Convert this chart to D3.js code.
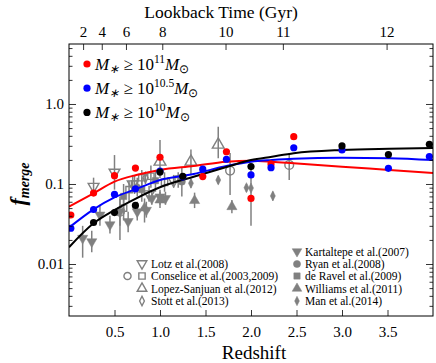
<!DOCTYPE html>
<html>
<head>
<meta charset="utf-8">
<script src="https://cdn.jsdelivr.net/npm/d3@7"></script>
<style>
body { margin: 0; background: #fff; }
svg text { font-family: 'Liberation Serif', serif; }
</style>
</head>
<body>
<svg class="plot" width="436" height="363"></svg>
<script>
// --- data ---
// this work: [z, fmerge]
var redPts = [[0.02,0.041],[0.27,0.077],[0.5,0.127],[0.73,0.158],[1.0,0.216],[1.47,0.124],[1.73,0.253],[2.0,0.066],[2.22,0.178],[2.47,0.39]];
var bluePts = [[0.02,0.028],[0.27,0.048],[0.5,0.074],[0.73,0.087],[1.0,0.145],[1.25,0.123],[1.47,0.153],[1.73,0.204],[2.0,0.13],[2.22,0.16],[2.47,0.284],[3.0,0.266],[3.51,0.157],[3.96,0.22]];
var blackPts = [[0.27,0.033],[0.5,0.044],[0.73,0.054],[1.0,0.141],[1.25,0.125],[2.0,0.165],[3.0,0.299],[3.51,0.233],[3.96,0.314]];
// fitted curves, sampled from the figure
var redFit = [[0.0,0.052],[0.27,0.0766],[0.5,0.107],[0.74,0.1296],[1.0,0.150],[1.37,0.168],[1.73,0.190],[2.0,0.1955],[2.23,0.190],[2.47,0.1815],[3.0,0.1645],[3.52,0.150],[4.0,0.1375]];
var blueFit = [[0.0,0.0285],[0.27,0.0483],[0.5,0.0682],[0.74,0.0866],[1.0,0.112],[1.37,0.1334],[1.73,0.168],[2.0,0.190],[2.23,0.1995],[2.47,0.207],[3.0,0.213],[3.52,0.2097],[4.0,0.199]];
var blackFit = [[0.0,0.0162],[0.27,0.0323],[0.5,0.0473],[0.74,0.0663],[1.0,0.091],[1.37,0.1234],[1.73,0.163],[2.0,0.1995],[2.23,0.2195],[2.47,0.242],[3.0,0.266],[3.52,0.276],[4.0,0.282]];

// literature: [z, f, lo, hi]
var lotz = [[0.27,0.093,0.075,0.12],[0.5,0.14,0.085,0.23],[0.7,0.1,0.078,0.13],[0.88,0.075,0.06,0.095],[1.15,0.11,0.09,0.13]];
var conseliceCirc = [[0.56,0.045,0.03,0.065],[1.77,0.147,0.073,0.244],[2.42,0.173,0.112,0.242]];
var conseliceSq = [[0.6,0.05,0.035,0.07],[0.66,0.085,0.06,0.11],[0.72,0.1,0.075,0.13],[0.8,0.12,0.09,0.15],[0.9,0.125,0.09,0.17],[1.05,0.105,0.08,0.14],[1.2,0.115,0.09,0.14]];
var lopez = [[1.0,0.19,0.119,0.355],[1.34,0.19,0.13,0.27],[1.64,0.31,0.21,0.52]];
var stott = [[0.84,0.12,0.1,0.14]];
var kartaltepe = [[0.15,0.021,0.012,0.03],[0.25,0.019,0.014,0.026],[0.34,0.041,0.03,0.055],[0.45,0.031,0.024,0.04],[0.56,0.045,0.02,0.07],[0.65,0.034,0.025,0.045],[0.75,0.045,0.035,0.06],[0.85,0.047,0.038,0.06],[0.91,0.066,0.055,0.08],[1.0,0.069,0.055,0.085],[1.06,0.066,0.055,0.08]];
var ryan = [[0.75,0.09,0.07,0.12],[1.24,0.107,0.07,0.16]];
var deravel = [[0.6,0.07,0.05,0.1],[0.8,0.085,0.06,0.12],[0.95,0.11,0.08,0.15]];
var williams = [[0.83,0.05,0.033,0.066],[1.0,0.063,0.05,0.08],[1.38,0.062,0.05,0.078],[1.79,0.052,0.043,0.063]];
var man = [[1.34,0.102,0.09,0.115],[1.64,0.112,0.1,0.125],[1.95,0.09,0.08,0.1],[2.0,0.089,0.03,0.16],[2.24,0.071,0.062,0.08]];

var zTicks = [0.5,1.0,1.5,2.0,2.5,3.0,3.5];
var yTicks = [0.01,0.1,1];
var yTickLabels = ["0.01","0.1","1.0"];
var lookbackLabels = ["2","4","6","8","10","11","12"];
var lookbackZ = [0.155,0.36,0.626,1.025,1.72,2.35,3.49];

var svg = d3.select(".plot");
var mL = 69, mR = 433, mT = 44, mB = 316;

var x = d3.scaleLinear().domain([0,4]).range([mL,mR]);
var y = d3.scaleLog().domain([0.00224,5.62]).range([mB,mT]);

var gray = "#808080";

// minor log ticks
var minor = [];
[0.001,0.01,0.1,1].forEach(function(d){ for (var k=2;k<10;k++){ var v=d*k; if (v>0.00224 && v<5.62) minor.push(v);} });

function sym(type, open, size) {
  return function(sel) {
    sel.attr("d", d3.symbol().type(type).size(size))
      .attr("fill", open ? "none" : gray)
      .attr("stroke", gray)
      .attr("stroke-width", open ? 1.4 : 0.5);
  };
}
var thinDiamond = { draw: function(ctx, s){ var r=Math.sqrt(s)/1.6; ctx.moveTo(0,-r*1.2); ctx.lineTo(r*0.6,0); ctx.lineTo(0,r*1.2); ctx.lineTo(-r*0.6,0); ctx.closePath(); } };

var sets = [
  {data: kartaltepe, type: d3.symbolTriangle, open:false, rot:180, size:45},
  {data: deravel, type: d3.symbolSquare, open:false, rot:0, size:40},
  {data: conseliceSq, type: d3.symbolSquare, open:true, rot:0, size:40},
  {data: lotz, type: d3.symbolTriangle, open:true, rot:180, size:50},
  {data: ryan, type: d3.symbolCircle, open:false, rot:0, size:40},
  {data: williams, type: d3.symbolTriangle, open:false, rot:0, size:45},
  {data: man, type: thinDiamond, open:false, rot:0, size:45},
  {data: stott, type: thinDiamond, open:true, rot:0, size:45},
  {data: lopez, type: d3.symbolTriangle, open:true, rot:0, size:60},
  {data: conseliceCirc, type: d3.symbolCircle, open:true, rot:0, size:60}
];

var plot = svg.append("g");
plot.append("clipPath").attr("id","clip").append("rect")
  .attr("x",mL).attr("y",mT).attr("width",mR-mL).attr("height",mB-mT);
var inner = plot.append("g").attr("clip-path","url(#clip)");

sets.forEach(function(s){
  inner.append("g").selectAll("line").data(s.data).enter().append("line")
    .attr("x1", function(d){ return x(d[0]); }).attr("x2", function(d){ return x(d[0]); })
    .attr("y1", function(d){ return y(d[2]); }).attr("y2", function(d){ return y(d[3]); })
    .attr("stroke", gray).attr("stroke-width", 1.5);
});
sets.forEach(function(s){
  inner.append("g").selectAll("path").data(s.data).enter().append("path")
    .attr("transform", function(d){ return "translate(" + x(d[0]) + "," + y(d[1]) + ") rotate(" + s.rot + ")"; })
    .call(sym(s.type, s.open, s.size));
});

var line = d3.line().curve(d3.curveMonotoneX)
  .x(function(d){ return x(d[0]); })
  .y(function(d){ return y(d[1]); });

[[redFit,"#ff0000"],[blueFit,"#0000ff"],[blackFit,"#000000"]].forEach(function(c){
  inner.append("path").datum(c[0]).attr("fill","none").attr("stroke",c[1]).attr("stroke-width",2).attr("d",line);
});
[[redPts,"#ff0000"],[bluePts,"#0000ff"],[blackPts,"#000000"]].forEach(function(c){
  inner.append("g").selectAll("circle").data(c[0]).enter().append("circle")
    .attr("cx", function(d){ return x(d[0]); }).attr("cy", function(d){ return y(d[1]); })
    .attr("r", 3.6).attr("fill", c[1]);
});

// axes
function styleAxis(g) {
  g.attr("font-family", null);
  g.select(".domain").remove();
  g.selectAll("line").attr("stroke","#000").attr("stroke-width",0.8);
  g.selectAll("text").attr("font-size",15).attr("fill","#000");
}
svg.append("g").attr("transform","translate(0," + mB + ")")
  .call(d3.axisBottom(x).tickValues(zTicks).tickFormat(d3.format(".1f")).tickSizeInner(-6).tickSizeOuter(0).tickPadding(10))
  .call(styleAxis);
svg.append("g").attr("transform","translate(0," + mT + ")")
  .call(d3.axisTop(x).tickValues(lookbackZ).tickFormat(function(d,i){ return lookbackLabels[i]; }).tickSizeInner(-6).tickSizeOuter(0).tickPadding(7))
  .call(styleAxis);
svg.append("g").attr("transform","translate(" + mL + ",0)")
  .call(d3.axisLeft(y).tickValues(yTicks).tickFormat(function(d,i){ return yTickLabels[i]; }).tickSizeInner(-7).tickSizeOuter(0).tickPadding(5))
  .call(styleAxis);
svg.append("g").attr("transform","translate(" + mL + ",0)")
  .call(d3.axisLeft(y).tickValues(minor).tickFormat("").tickSizeInner(-3.5).tickSizeOuter(0))
  .call(styleAxis);
svg.append("g").attr("transform","translate(" + mR + ",0)")
  .call(d3.axisRight(y).tickValues(yTicks).tickFormat("").tickSizeInner(-7).tickSizeOuter(0))
  .call(styleAxis);
svg.append("g").attr("transform","translate(" + mR + ",0)")
  .call(d3.axisRight(y).tickValues(minor).tickFormat("").tickSizeInner(-3.5).tickSizeOuter(0))
  .call(styleAxis);

svg.append("rect").attr("x",mL).attr("y",mT).attr("width",mR-mL).attr("height",mB-mT)
  .attr("fill","none").attr("stroke","#000").attr("stroke-width",1);

// titles
svg.append("text").attr("x",254).attr("y",359).attr("text-anchor","middle")
  .attr("font-size",19).text("Redshift");
svg.append("text").attr("x",221).attr("y",18).attr("text-anchor","middle")
  .attr("font-size",17.5).text("Lookback Time (Gyr)");
var yl = svg.append("text").attr("transform","translate(25,184) rotate(-90)").attr("text-anchor","middle")
  .attr("font-style","italic").attr("font-weight","bold");
yl.append("tspan").attr("font-size",22).text("f");
yl.append("tspan").attr("font-size",14).attr("dy",4).text("merge");

// top-left legend
var massLeg = [["#ff0000","11"],["#0000ff","10.5"],["#000000","10"]];
massLeg.forEach(function(m,i){
  var yy = 64 + i*24.2;
  svg.append("circle").attr("cx",87).attr("cy",yy).attr("r",3.6).attr("fill",m[0]);
  var t = svg.append("text").attr("x",95).attr("y",yy+5.5).attr("font-size",17);
  t.append("tspan").attr("font-style","italic").text("M");
  t.append("tspan").attr("font-style","italic").attr("font-size",12).attr("dy",3).text("∗");
  t.append("tspan").attr("dy",-3).text(" ≥ 10");
  t.append("tspan").attr("font-size",11.5).attr("dy",-7).text(m[1]);
  t.append("tspan").attr("font-style","italic").attr("dy",7).text("M");
  t.append("tspan").attr("font-size",12).attr("dy",3).text("⊙");
});

// bottom legend
var legLeft = [["Lotz et al.(2008)",3],["Conselice et al.(2003,2009)",2],["Lopez-Sanjuan et al.(2012)",8],["Stott et al.(2013)",7]];
var legRight = [["Kartaltepe et al.(2007)",0],["Ryan et al.(2008)",4],["de Ravel et al.(2009)",1],["Williams et al.(2011)",5],["Man et al.(2014)",6]];
var legY1 = [263.5,276,288.5,301];
var legY2 = [251.5,264,276,288.5,301];
function legendEntry(mx, tx, yy, s, label) {
  svg.append("path").attr("transform","translate(" + mx + "," + yy + ") rotate(" + s.rot + ")").call(sym(s.type, s.open, 40));
  svg.append("text").attr("x",tx).attr("y",yy+4).attr("font-size",11.5).text(label);
}
legLeft.forEach(function(d,i){ legendEntry(142, 151, legY1[i], sets[d[1]], d[0]); });
svg.append("path").attr("transform","translate(127.5," + legY1[1] + ")").call(sym(d3.symbolCircle, true, 40));
legRight.forEach(function(d,i){ legendEntry(297, 305, legY2[i], sets[d[1]], d[0]); });
</script>
</body>
</html>
